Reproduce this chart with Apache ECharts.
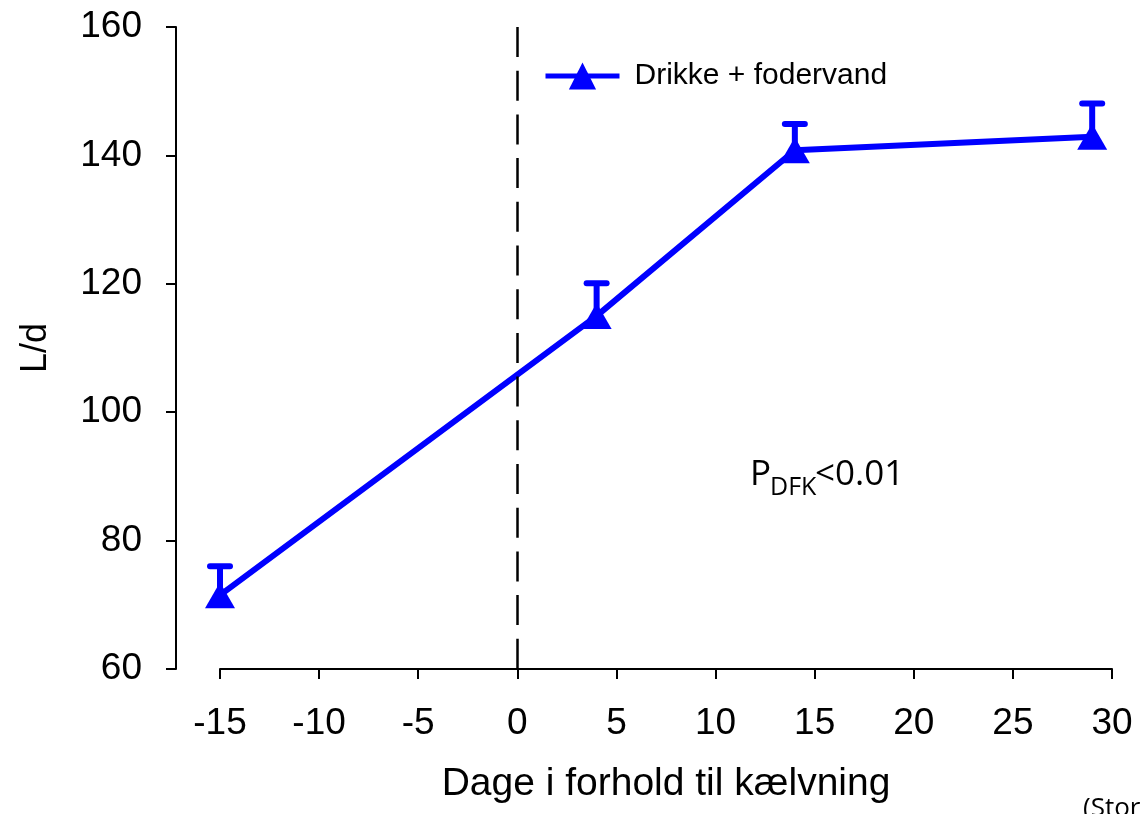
<!DOCTYPE html>
<html>
<head>
<meta charset="utf-8">
<script src="https://cdn.jsdelivr.net/npm/echarts@6/dist/echarts.min.js"></script>
<style>html,body{margin:0;padding:0;background:#fff}#c{width:1140px;height:814px}</style>
</head>
<body>
<div id="c"></div>
<script>
// Data
var days = [-15, 4, 14, 29];
var waterIntake = [71.5, 115.0, 140.8, 142.9];
var errorUpper = [76.0, 120.1, 144.9, 148.1];
var seriesName = 'Drikke + fodervand';
var xTicks = [-15, -10, -5, 0, 5, 10, 15, 20, 25, 30];
var yTicks = [60, 80, 100, 120, 140, 160];

var lineData = days.map(function (d, i) { return [d, waterIntake[i]]; });
var errData = days.map(function (d, i) { return [d, waterIntake[i], errorUpper[i]]; });

var chart = echarts.init(document.getElementById('c'), null, {renderer: 'canvas'});
var blue = '#0000FF';
var font = 'Liberation Sans, Arial, sans-serif';

chart.setOption({
  animation: false,
  backgroundColor: '#ffffff',
  grid: {left: 220, right: 28, top: 27, bottom: 145, containLabel: false},
  legend: {
    left: 538, top: 56,
    itemWidth: 74, itemHeight: 34,
    data: [seriesName],
    lineStyle: {width: 5},
    textStyle: {fontFamily: font, fontSize: 30, color: '#000', padding: [0, 0, 0, 10]}
  },
  xAxis: {
    type: 'value', min: xTicks[0], max: xTicks[xTicks.length - 1], interval: 5,
    name: 'Dage i forhold til kælvning', nameLocation: 'middle', nameGap: 96,
    nameTextStyle: {fontFamily: font, fontSize: 39, color: '#000'},
    axisLine: {show: true, onZero: false, lineStyle: {color: '#000', width: 2}},
    axisTick: {show: true, length: 10, lineStyle: {color: '#000', width: 2}},
    axisLabel: {fontFamily: font, fontSize: 37, color: '#000', margin: 36},
    splitLine: {show: false}
  },
  yAxis: {
    type: 'value', min: yTicks[0], max: yTicks[yTicks.length - 1], interval: 20,
    offset: 44,
    name: 'L/d', nameLocation: 'middle', nameGap: 122, nameRotate: 90,
    nameTextStyle: {fontFamily: font, fontSize: 36, color: '#000'},
    axisLine: {show: true, onZero: false, lineStyle: {color: '#000', width: 2}},
    axisTick: {show: true, length: 10, lineStyle: {color: '#000', width: 2}},
    axisLabel: {fontFamily: font, fontSize: 37, color: '#000', margin: 34},
    splitLine: {show: false}
  },
  series: [
    {
      type: 'custom',
      name: 'err',
      data: errData,
      z: 3,
      renderItem: function (params, api) {
        var p0 = api.coord([api.value(0), api.value(1)]);
        var p1 = api.coord([api.value(0), api.value(2)]);
        var style = {stroke: blue, lineWidth: 6, lineCap: 'round'};
        return {
          type: 'group',
          children: [
            {type: 'line', shape: {x1: p0[0], y1: p0[1], x2: p1[0], y2: p1[1]}, style: {stroke: blue, lineWidth: 6}},
            {type: 'line', shape: {x1: p1[0] - 10, y1: p1[1], x2: p1[0] + 10, y2: p1[1]}, style: style}
          ]
        };
      },
      silent: true
    },
    {
      type: 'line',
      name: seriesName,
      data: lineData,
      z: 4,
      symbol: 'triangle',
      symbolSize: [30, 26],
      lineStyle: {color: blue, width: 6},
      itemStyle: {color: blue},
      markLine: {
        silent: true,
        symbol: 'none',
        label: {show: false},
        lineStyle: {color: '#000', width: 2.5, type: [30, 13.7]},
        data: [[{coord: [0, yTicks[yTicks.length - 1]]}, {coord: [0, yTicks[0]]}]]
      }
    }
  ],
  graphic: [
    {type: 'text', left: 750, top: 475 - 17, style: {text: 'P', font: '35px "Open Sans"', fill: '#000'}},
    {type: 'text', left: 770, top: 487 - 12, style: {text: 'DFK', font: '25px "Open Sans"', fill: '#000'}},
    {type: 'text', left: 815, top: 475 - 17, style: {text: '<0.01', font: '35px "Open Sans"', fill: '#000'}},
    {type: 'text', left: 1083, top: 796, style: {text: '(Stor', font: '26px "Open Sans"', fill: '#000'}}
  ]
});
</script>
</body>
</html>
